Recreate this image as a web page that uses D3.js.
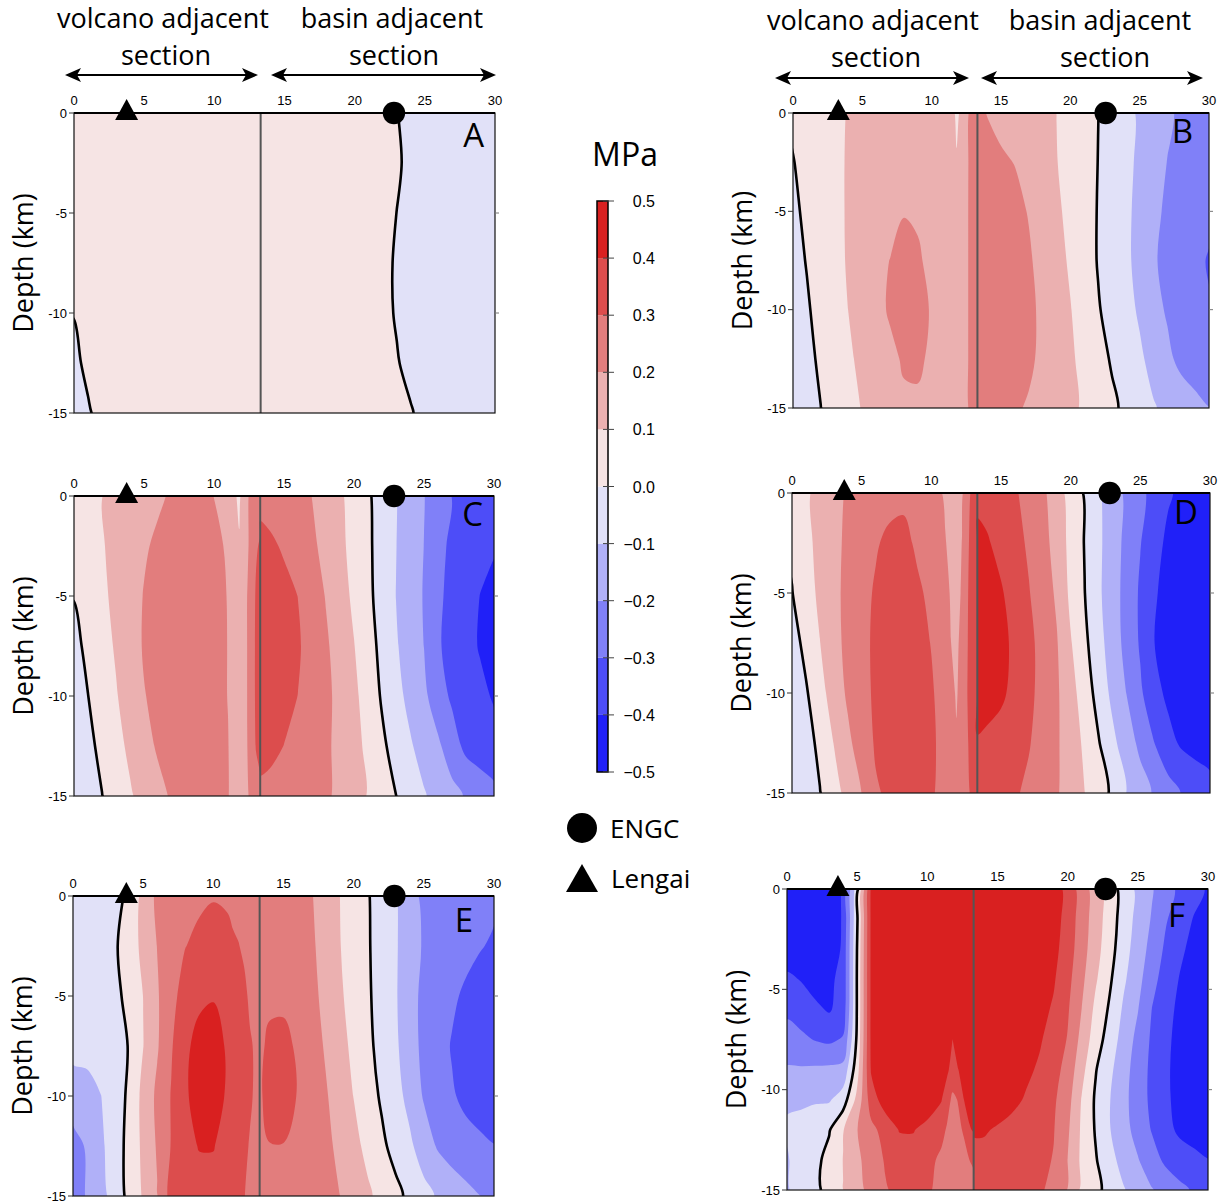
<!DOCTYPE html>
<html>
<head>
<meta charset="utf-8">
<script src="https://cdn.jsdelivr.net/npm/d3@7"></script>
<style>
  body { margin: 0; background: #fff; }
  svg { display: block; }
</style>
</head>
<body>
<svg id="fig" width="1223" height="1204"></svg>
<script>
// ---------------------------------------------------------------------------
// Stress change (MPa) along a 30 km section, 0-15 km depth, six model stages.
// Grid columns in km; 13.3 km appears twice: the boundary between the
// volcano-adjacent and the basin-adjacent sections (left / right limits).
// ---------------------------------------------------------------------------
const gridX = [0, 1, 2, 3, 4, 5, 6, 7, 8, 9, 10, 11, 11.4, 11.8, 12.2, 12.6, 13.0, 13.3,
               13.3, 14, 15, 16, 17, 18, 19, 20, 21, 22, 23, 24, 25, 26, 27, 28, 29, 30];
const depthsCoarse = [0, -2.5, -5, -7.5, -10, -12.5, -15];
const depthsFine = [0, -1.5, -3, -4.5, -6, -7.5, -9, -10.5, -12, -13.5, -15];

const sectionBoundaryKm = 13.3;
const contourLevels = [-0.4, -0.3, -0.2, -0.1, 0, 0.1, 0.2, 0.3, 0.4];
const bandColors = ['#2020f8', '#4d4df8', '#8080f8', '#b0b0f8', '#e1e1f8',
                    '#f6e4e4', '#ebb0b0', '#e27d7d', '#dc4d4d', '#d92020'];
const colorbarTicks = [0.5, 0.4, 0.3, 0.2, 0.1, 0.0, -0.1, -0.2, -0.3, -0.4, -0.5];
const xTicks = [0, 5, 10, 15, 20, 25, 30];
const yTicks = [0, -5, -10, -15];

// site positions along the section (km), one per panel A..F
const lengaiKm = [3.75, 3.27, 3.76, 3.75, 3.8, 3.63];
const engcKm = [22.8, 22.55, 22.86, 22.8, 22.9, 22.7];

// stress grids: one row per depth, one value per gridX column
const stressA = [
  [.05,.05,.05,.05,.05,.05,.05,.05,.05,.05,.05,.05, .05,.05,.05,.05,.05,.05, .05,.05,.05,.05,.05,.05,.05,.05,.05,.044,.004,-.036,-.05,-.05,-.05,-.05,-.05,-.05],
  [.05,.05,.05,.05,.05,.05,.05,.05,.05,.05,.05,.05, .05,.05,.05,.05,.05,.05, .05,.05,.05,.05,.05,.05,.05,.05,.05,.05,.014,-.026,-.05,-.05,-.05,-.05,-.05,-.05],
  [.05,.05,.05,.05,.05,.05,.05,.05,.05,.05,.05,.05, .05,.05,.05,.05,.05,.05, .05,.05,.05,.05,.05,.05,.05,.05,.05,.04,-.001,-.04,-.05,-.05,-.05,-.05,-.05,-.05],
  [.05,.05,.05,.05,.05,.05,.05,.05,.05,.05,.05,.05, .05,.05,.05,.05,.05,.05, .05,.05,.05,.05,.05,.05,.05,.05,.05,.028,-.012,-.05,-.05,-.05,-.05,-.05,-.05,-.05],
  [.003,.04,.05,.05,.05,.05,.05,.05,.05,.05,.05,.05, .05,.05,.05,.05,.05,.05, .05,.05,.05,.05,.05,.05,.05,.05,.05,.03,-.01,-.05,-.05,-.05,-.05,-.05,-.05,-.05],
  [-.02,.02,.05,.05,.05,.05,.05,.05,.05,.05,.05,.05, .05,.05,.05,.05,.05,.05, .05,.05,.05,.05,.05,.05,.05,.05,.05,.048,.008,-.032,-.05,-.05,-.05,-.05,-.05,-.05],
  [-.04,-.01,.03,.05,.05,.05,.05,.05,.05,.05,.05,.05, .05,.05,.05,.05,.05,.05, .05,.05,.05,.05,.05,.05,.05,.05,.05,.05,.048,.008,-.032,-.05,-.05,-.05,-.05,-.05]
];

const stressB = [
  [0.015,0.036,0.058,0.079,0.105,0.12,0.135,0.145,0.15,0.155,0.16,0.15, 0.13,0.085,0.12,0.198,0.21,0.215, 0.215,0.198,0.18,0.16,0.14,0.12,0.0995,0.067,0.034,0.001,-0.037,-0.075,-0.112,-0.148,-0.184,-0.217,-0.247,-0.27],
  [-0.003,0.025,0.053,0.08,0.108,0.12,0.135,0.15,0.16,0.165,0.165,0.15, 0.145,0.106,0.15,0.198,0.215,0.23, 0.23,0.225,0.21,0.198,0.166,0.134,0.103,0.069,0.034,-0.001,-0.039,-0.077,-0.117,-0.16,-0.202,-0.235,-0.26,-0.28],
  [-0.015,0.015,0.048,0.08,0.108,0.125,0.145,0.16,0.197,0.19,0.17,0.16, 0.16,0.16,0.17,0.198,0.22,0.24, 0.24,0.245,0.235,0.22,0.196,0.155,0.116,0.076,0.036,-0.004,-0.042,-0.081,-0.126,-0.179,-0.215,-0.24,-0.265,-0.285],
  [-0.027,0.004,0.039,0.075,0.108,0.14,0.17,0.202,0.22,0.21,0.18,0.165, 0.165,0.165,0.175,0.198,0.22,0.24, 0.24,0.25,0.245,0.235,0.21,0.173,0.131,0.088,0.042,-0.005,-0.042,-0.081,-0.129,-0.188,-0.23,-0.26,-0.285,-0.305],
  [-0.045,-0.009,0.027,0.064,0.101,0.135,0.175,0.21,0.225,0.22,0.195,0.165, 0.165,0.165,0.175,0.198,0.22,0.24, 0.24,0.25,0.248,0.24,0.22,0.182,0.143,0.104,0.056,0.007,-0.032,-0.07,-0.112,-0.171,-0.21,-0.245,-0.275,-0.295],
  [-0.058,-0.022,0.014,0.05,0.087,0.12,0.15,0.18,0.21,0.21,0.19,0.16, 0.16,0.16,0.17,0.198,0.22,0.235, 0.235,0.245,0.24,0.235,0.215,0.182,0.148,0.114,0.074,0.032,-0.009,-0.047,-0.085,-0.13,-0.18,-0.225,-0.245,-0.265],
  [-0.073,-0.037,-0.001,0.034,0.07,0.105,0.135,0.16,0.185,0.19,0.175,0.16, 0.16,0.16,0.17,0.198,0.215,0.23, 0.23,0.235,0.225,0.21,0.192,0.165,0.141,0.117,0.089,0.053,0.017,-0.019,-0.056,-0.093,-0.121,-0.148,-0.175,-0.198]
];

const stressC = [
  [0.05,0.075,0.099,0.121,0.143,0.165,0.187,0.21,0.225,0.22,0.199,0.16, 0.12,0.08,0.17,0.215,0.24,0.26, 0.27,0.265,0.245,0.225,0.199,0.156,0.114,0.065,0.013,-0.041,-0.096,-0.147,-0.197,-0.25,-0.302,-0.33,-0.36,-0.385],
  [0.025,0.059,0.093,0.126,0.158,0.19,0.215,0.235,0.245,0.24,0.22,0.19, 0.16,0.11,0.17,0.215,0.29,0.31, 0.33,0.315,0.29,0.26,0.215,0.176,0.121,0.071,0.017,-0.04,-0.098,-0.15,-0.201,-0.263,-0.325,-0.355,-0.375,-0.39],
  [0.003,0.043,0.082,0.122,0.163,0.204,0.225,0.24,0.25,0.245,0.225,0.197, 0.17,0.16,0.175,0.235,0.31,0.33, 0.345,0.34,0.325,0.299,0.247,0.195,0.139,0.082,0.022,-0.039,-0.101,-0.154,-0.206,-0.282,-0.328,-0.364,-0.401,-0.43],
  [-0.024,0.02,0.064,0.11,0.159,0.208,0.228,0.242,0.25,0.248,0.23,0.198, 0.17,0.16,0.175,0.235,0.315,0.34, 0.35,0.345,0.335,0.31,0.263,0.213,0.159,0.103,0.039,-0.026,-0.09,-0.146,-0.201,-0.289,-0.333,-0.37,-0.407,-0.44],
  [-0.048,-0.001,0.046,0.093,0.144,0.196,0.222,0.24,0.248,0.245,0.23,0.198, 0.17,0.16,0.175,0.235,0.315,0.34, 0.35,0.345,0.325,0.299,0.26,0.22,0.174,0.121,0.058,-0.01,-0.07,-0.126,-0.179,-0.256,-0.316,-0.347,-0.378,-0.409],
  [-0.07,-0.023,0.023,0.07,0.119,0.172,0.21,0.23,0.24,0.238,0.225,0.203, 0.17,0.16,0.175,0.23,0.305,0.325, 0.33,0.32,0.299,0.271,0.243,0.214,0.177,0.13,0.079,0.018,-0.037,-0.089,-0.137,-0.183,-0.254,-0.325,-0.35,-0.37],
  [-0.094,-0.048,-0.002,0.043,0.089,0.133,0.176,0.21,0.225,0.225,0.215,0.205, 0.17,0.16,0.17,0.215,0.26,0.28, 0.28,0.275,0.265,0.25,0.235,0.216,0.176,0.136,0.095,0.048,0.001,-0.045,-0.092,-0.132,-0.17,-0.208,-0.24,-0.27]
];

const stressD = [
  [0.03,0.085,0.131,0.173,0.21,0.235,0.255,0.27,0.28,0.275,0.25,0.185, 0.17,0.16,0.185,0.29,0.31,0.33, 0.38,0.365,0.34,0.31,0.27,0.22,0.145,0.063,-0.008,-0.085,-0.154,-0.218,-0.276,-0.333,-0.389,-0.42,-0.44,-0.455],
  [0.015,0.074,0.128,0.176,0.218,0.255,0.291,0.32,0.325,0.285,0.25,0.205, 0.175,0.16,0.202,0.29,0.33,0.35, 0.42,0.41,0.37,0.33,0.287,0.234,0.163,0.07,-0.004,-0.08,-0.154,-0.226,-0.296,-0.366,-0.42,-0.445,-0.46,-0.47],
  [-0.003,0.059,0.119,0.175,0.226,0.271,0.31,0.33,0.34,0.315,0.28,0.235, 0.19,0.17,0.21,0.295,0.34,0.36, 0.44,0.44,0.41,0.358,0.305,0.249,0.186,0.078,0.002,-0.083,-0.158,-0.233,-0.314,-0.39,-0.43,-0.455,-0.47,-0.48],
  [-0.042,0.028,0.098,0.167,0.226,0.277,0.315,0.335,0.345,0.33,0.297,0.25, 0.201,0.18,0.23,0.298,0.345,0.36, 0.45,0.45,0.43,0.377,0.324,0.267,0.207,0.107,0.022,-0.065,-0.149,-0.23,-0.311,-0.399,-0.44,-0.46,-0.475,-0.485],
  [-0.087,-0.011,0.066,0.143,0.215,0.27,0.315,0.335,0.345,0.335,0.31,0.26, 0.23,0.19,0.24,0.302,0.345,0.36, 0.45,0.445,0.42,0.368,0.321,0.27,0.214,0.136,0.052,-0.036,-0.124,-0.201,-0.285,-0.369,-0.42,-0.45,-0.465,-0.475],
  [-0.09,-0.04,0.024,0.102,0.179,0.247,0.31,0.33,0.34,0.335,0.315,0.27, 0.245,0.21,0.25,0.295,0.335,0.35, 0.39,0.375,0.355,0.335,0.306,0.261,0.212,0.151,0.083,0.007,-0.076,-0.151,-0.223,-0.299,-0.37,-0.415,-0.435,-0.45],
  [-0.102,-0.05,-0.004,0.062,0.131,0.201,0.29,0.315,0.325,0.325,0.31,0.27, 0.25,0.23,0.245,0.285,0.325,0.34, 0.36,0.355,0.335,0.31,0.282,0.245,0.209,0.157,0.101,0.045,-0.017,-0.101,-0.157,-0.211,-0.261,-0.305,-0.335,-0.36]
];

const stressE = [
  [-0.05,-0.045,-0.035,-0.03,0.02,0.133,0.22,0.24,0.255,0.285,0.295,0.29, 0.28,0.265,0.25,0.235,0.23,0.22, 0.24,0.25,0.245,0.23,0.205,0.157,0.101,0.054,0.007,-0.042,-0.091,-0.158,-0.225,-0.25,-0.265,-0.275,-0.28,-0.285],
  [-0.06,-0.055,-0.04,-0.012,0.053,0.123,0.202,0.225,0.298,0.32,0.335,0.32, 0.31,0.303,0.285,0.27,0.26,0.26, 0.26,0.27,0.265,0.25,0.215,0.162,0.104,0.056,0.009,-0.04,-0.091,-0.152,-0.211,-0.232,-0.253,-0.274,-0.295,-0.31],
  [-0.065,-0.06,-0.045,-0.027,0.032,0.101,0.19,0.27,0.34,0.385,0.395,0.37, 0.35,0.335,0.32,0.285,0.28,0.27, 0.27,0.285,0.285,0.265,0.225,0.175,0.115,0.063,0.013,-0.038,-0.091,-0.169,-0.221,-0.253,-0.285,-0.315,-0.335,-0.35],
  [-0.07,-0.065,-0.05,-0.025,0.003,0.098,0.19,0.29,0.385,0.425,0.435,0.39, 0.37,0.35,0.33,0.31,0.29,0.285, 0.285,0.315,0.32,0.29,0.245,0.19,0.134,0.078,0.022,-0.032,-0.084,-0.161,-0.223,-0.264,-0.306,-0.33,-0.345,-0.355],
  [-0.15,-0.14,-0.101,-0.04,0.015,0.13,0.22,0.305,0.39,0.43,0.435,0.39, 0.37,0.35,0.33,0.31,0.29,0.28, 0.29,0.325,0.33,0.297,0.26,0.21,0.154,0.098,0.042,-0.013,-0.066,-0.131,-0.209,-0.25,-0.291,-0.32,-0.335,-0.345],
  [-0.235,-0.19,-0.115,-0.055,0.035,0.12,0.21,0.305,0.37,0.405,0.405,0.36, 0.345,0.33,0.315,0.295,0.28,0.275, 0.28,0.298,0.298,0.28,0.255,0.225,0.177,0.128,0.075,0.019,-0.033,-0.082,-0.149,-0.21,-0.245,-0.27,-0.285,-0.298],
  [-0.23,-0.195,-0.13,-0.06,0.03,0.11,0.195,0.34,0.35,0.36,0.36,0.34, 0.33,0.32,0.302,0.285,0.275,0.27, 0.27,0.27,0.265,0.255,0.24,0.225,0.201,0.158,0.116,0.071,0.025,-0.022,-0.069,-0.11,-0.14,-0.17,-0.199,-0.22]
];

const stressF = [
  [-0.52,-0.52,-0.52,-0.52,-0.38,-0.03,0.42,0.48,0.5,0.5,0.5,0.5, 0.5,0.5,0.5,0.5,0.5,0.5, 0.5,0.5,0.5,0.5,0.5,0.48,0.45,0.37,0.253,0.153,0.054,-0.042,-0.121,-0.191,-0.261,-0.321,-0.367,-0.41],
  [-0.52,-0.52,-0.52,-0.52,-0.38,-0.01,0.42,0.48,0.5,0.5,0.5,0.5, 0.5,0.5,0.5,0.5,0.5,0.5, 0.5,0.5,0.5,0.5,0.5,0.48,0.445,0.361,0.253,0.15,0.05,-0.045,-0.131,-0.208,-0.292,-0.35,-0.406,-0.44],
  [-0.46,-0.47,-0.49,-0.52,-0.37,0.005,0.42,0.48,0.5,0.5,0.5,0.5, 0.5,0.5,0.5,0.5,0.5,0.5, 0.5,0.5,0.5,0.5,0.5,0.47,0.43,0.35,0.244,0.137,0.038,-0.06,-0.148,-0.233,-0.319,-0.381,-0.43,-0.46],
  [-0.38,-0.405,-0.44,-0.42,-0.37,0.01,0.42,0.48,0.5,0.5,0.5,0.5, 0.5,0.5,0.5,0.5,0.5,0.5, 0.5,0.5,0.5,0.5,0.48,0.45,0.41,0.33,0.223,0.111,0.014,-0.085,-0.168,-0.267,-0.344,-0.406,-0.44,-0.47],
  [-0.32,-0.345,-0.38,-0.41,-0.36,0.01,0.42,0.48,0.5,0.5,0.5,0.5, 0.5,0.5,0.5,0.5,0.5,0.5, 0.5,0.5,0.5,0.5,0.47,0.43,0.388,0.311,0.199,0.075,-0.014,-0.116,-0.196,-0.301,-0.363,-0.425,-0.46,-0.48],
  [-0.26,-0.28,-0.305,-0.32,-0.29,0.02,0.42,0.48,0.5,0.5,0.5,0.5, 0.5,0.399,0.5,0.5,0.5,0.5, 0.5,0.5,0.5,0.48,0.44,0.41,0.361,0.294,0.169,0.047,-0.045,-0.141,-0.228,-0.315,-0.38,-0.43,-0.46,-0.48],
  [-0.19,-0.19,-0.185,-0.18,-0.17,0.06,0.41,0.47,0.5,0.5,0.5,0.48, 0.42,0.36,0.398,0.45,0.48,0.48, 0.5,0.5,0.49,0.46,0.42,0.387,0.336,0.265,0.131,0.005,-0.079,-0.163,-0.246,-0.323,-0.387,-0.43,-0.46,-0.48],
  [-0.11,-0.115,-0.11,-0.11,-0.05,0.13,0.35,0.45,0.48,0.48,0.46,0.405, 0.34,0.28,0.305,0.399,0.44,0.45, 0.48,0.47,0.45,0.425,0.392,0.354,0.315,0.237,0.094,-0.014,-0.097,-0.173,-0.25,-0.322,-0.384,-0.43,-0.455,-0.47],
  [-0.09,-0.07,-0.045,-0.008,0.095,0.198,0.275,0.335,0.405,0.405,0.37,0.33, 0.29,0.25,0.28,0.31,0.39,0.41, 0.41,0.41,0.39,0.37,0.35,0.33,0.305,0.215,0.084,-0.009,-0.096,-0.166,-0.236,-0.306,-0.369,-0.42,-0.44,-0.45],
  [-0.108,-0.06,-0.025,0.03,0.102,0.185,0.235,0.31,0.35,0.36,0.33,0.28, 0.26,0.24,0.25,0.27,0.3,0.31, 0.37,0.37,0.365,0.355,0.34,0.325,0.295,0.199,0.08,0.007,-0.069,-0.135,-0.194,-0.26,-0.32,-0.35,-0.375,-0.398],
  [-0.11,-0.06,-0.025,0.035,0.099,0.165,0.235,0.29,0.33,0.33,0.31,0.28, 0.26,0.245,0.25,0.26,0.27,0.28, 0.33,0.335,0.335,0.33,0.32,0.31,0.28,0.196,0.081,0.025,-0.033,-0.094,-0.144,-0.194,-0.237,-0.279,-0.31,-0.335]
];

// ---------------------------------------------------------------------------
// layout
// ---------------------------------------------------------------------------
const sansFont = "'Open Sans', 'Noto Sans', sans-serif";
const numFont = "'Liberation Sans', Arial, sans-serif";

const panels = [
  { key: 'A', grid: stressA, depths: depthsCoarse, x0: 74,  x1: 495,  y0: 113, y1: 413,  lx: -11, ly: 34 },
  { key: 'B', grid: stressB, depths: depthsCoarse, x0: 793, x1: 1209, y0: 113, y1: 408,  lx: -16, ly: 30 },
  { key: 'C', grid: stressC, depths: depthsCoarse, x0: 74,  x1: 494,  y0: 496, y1: 796,  lx: -11, ly: 30 },
  { key: 'D', grid: stressD, depths: depthsCoarse, x0: 792, x1: 1210, y0: 493, y1: 793,  lx: -12, ly: 31 },
  { key: 'E', grid: stressE, depths: depthsCoarse, x0: 73,  x1: 494,  y0: 896, y1: 1196, lx: -21, ly: 36 },
  { key: 'F', grid: stressF, depths: depthsFine,   x0: 787, x1: 1208, y0: 889, y1: 1190, lx: -23, ly: 38 }
];

const svg = d3.select('#fig');
const defs = svg.append('defs');

// smooth closed rings for the filled contour bands
const ringLine = d3.line().curve(d3.curveCatmullRomClosed.alpha(0.5));

function drawPanel(p, i) {
  const x = d3.scaleLinear().domain([0, 30]).range([p.x0, p.x1]);
  const y = d3.scaleLinear().domain([0, -15]).range([p.y0, p.y1]);
  const nx = gridX.length, ny = p.depths.length;

  // grid index -> km (piecewise, allows uneven spacing and the section break)
  const colKm = d3.scaleLinear().domain(d3.range(nx)).range(gridX);
  const rowKm = d3.scaleLinear().domain(d3.range(ny)).range(p.depths);
  const values = p.grid.flat();
  const contours = d3.contours().size([nx, ny]);

  const toScreen = ([gx, gy]) => [x(colKm(gx - 0.5)), y(rowKm(gy - 0.5))];
  function bandPath(level) {
    const geom = contours.contour(values, level);
    let d = '';
    geom.coordinates.forEach(poly => poly.forEach(ring => {
      const pts = ring.slice(0, -1).map(toScreen);
      const clean = pts.filter((pt, k) => k === 0 ||
        Math.abs(pt[0] - pts[k - 1][0]) + Math.abs(pt[1] - pts[k - 1][1]) > 0.05);
      if (clean.length > 2) d += ringLine(clean);
    }));
    return d;
  }

  const clipId = 'clip-' + p.key;
  defs.append('clipPath').attr('id', clipId)
    .append('rect')
    .attr('x', p.x0).attr('y', p.y0)
    .attr('width', p.x1 - p.x0).attr('height', p.y1 - p.y0);

  const g = svg.append('g').attr('clip-path', `url(#${clipId})`);
  g.append('rect')
    .attr('x', p.x0).attr('y', p.y0)
    .attr('width', p.x1 - p.x0).attr('height', p.y1 - p.y0)
    .attr('fill', bandColors[0]);

  contourLevels.forEach((lv, k) => {
    g.append('path')
      .attr('d', bandPath(lv))
      .attr('fill', bandColors[k + 1])
      .attr('fill-rule', 'evenodd');
  });

  // zero-stress contour
  g.append('path')
    .attr('d', bandPath(0))
    .attr('fill', 'none')
    .attr('stroke', '#000')
    .attr('stroke-width', 2.6)
    .attr('stroke-linejoin', 'round');

  // section boundary
  svg.append('line')
    .attr('x1', x(sectionBoundaryKm)).attr('x2', x(sectionBoundaryKm))
    .attr('y1', p.y0).attr('y2', p.y1)
    .attr('stroke', '#555').attr('stroke-width', 2);

  // frame
  svg.append('rect')
    .attr('x', p.x0).attr('y', p.y0)
    .attr('width', p.x1 - p.x0).attr('height', p.y1 - p.y0)
    .attr('fill', 'none').attr('stroke', '#111').attr('stroke-width', 1.2);
  svg.append('line')
    .attr('x1', p.x0).attr('x2', p.x1).attr('y1', p.y0).attr('y2', p.y0)
    .attr('stroke', '#000').attr('stroke-width', 2);

  // distance ticks (top)
  svg.append('g').selectAll('text').data(xTicks).join('text')
    .attr('x', d => x(d)).attr('y', p.y0 - 8)
    .attr('text-anchor', 'middle')
    .attr('font-family', numFont).attr('font-size', 13)
    .text(d => d);

  // depth ticks (left)
  const yt = svg.append('g');
  yt.selectAll('line.l').data(yTicks).join('line')
    .attr('x1', p.x0 - 5).attr('x2', p.x0)
    .attr('y1', d => y(d)).attr('y2', d => y(d))
    .attr('stroke', '#333').attr('stroke-width', 1);
  yt.selectAll('line.r').data(yTicks.slice(1, 3)).join('line')
    .attr('x1', p.x1).attr('x2', p.x1 + 4)
    .attr('y1', d => y(d)).attr('y2', d => y(d))
    .attr('stroke', '#777').attr('stroke-width', 1);
  yt.selectAll('text').data(yTicks).join('text')
    .attr('x', p.x0 - 7).attr('y', d => y(d) + 4.5)
    .attr('text-anchor', 'end')
    .attr('font-family', numFont).attr('font-size', 13)
    .text(d => d);

  svg.append('text')
    .attr('transform', `translate(${p.x0 - 41},${(p.y0 + p.y1) / 2}) rotate(-90)`)
    .attr('text-anchor', 'middle')
    .attr('font-family', sansFont).attr('font-size', 27)
    .text('Depth (km)');

  // sites on the surface
  const tx = x(lengaiKm[i]);
  svg.append('path')
    .attr('d', `M${tx},${p.y0 - 14}L${tx + 11.5},${p.y0 + 7}L${tx - 11.5},${p.y0 + 7}Z`)
    .attr('fill', '#000');
  svg.append('circle')
    .attr('cx', x(engcKm[i])).attr('cy', p.y0).attr('r', 11.2)
    .attr('fill', '#000');

  // panel letter
  svg.append('text')
    .attr('x', p.x1 + p.lx).attr('y', p.y0 + p.ly)
    .attr('text-anchor', 'end')
    .attr('font-family', sansFont).attr('font-size', 33)
    .text(p.key);
}

panels.forEach(drawPanel);

// ---------------------------------------------------------------------------
// section headers
// ---------------------------------------------------------------------------
const headerLabels = ['volcano adjacent', 'basin adjacent'];
const headers = [
  { c1: [163, 392], c2: [166, 394], y1: 28, y2: 65, ya: 75, arrows: [[65, 258], [271, 496]] },
  { c1: [873, 1100], c2: [876, 1105], y1: 30, y2: 67, ya: 78, arrows: [[775, 969], [981, 1203]] }
];

function doubleArrow(xa, xb, y) {
  const g = svg.append('g');
  g.append('line').attr('x1', xa + 8).attr('x2', xb - 8).attr('y1', y).attr('y2', y)
    .attr('stroke', '#000').attr('stroke-width', 2.2);
  g.append('path').attr('d', `M${xa},${y}L${xa + 16},${y - 7}L${xa + 12},${y}L${xa + 16},${y + 7}Z`).attr('fill', '#000');
  g.append('path').attr('d', `M${xb},${y}L${xb - 16},${y - 7}L${xb - 12},${y}L${xb - 16},${y + 7}Z`).attr('fill', '#000');
}

headers.forEach(h => {
  headerLabels.forEach((lab, k) => {
    svg.append('text').attr('x', h.c1[k]).attr('y', h.y1)
      .attr('text-anchor', 'middle').attr('font-family', sansFont).attr('font-size', 27)
      .text(lab);
    svg.append('text').attr('x', h.c2[k]).attr('y', h.y2)
      .attr('text-anchor', 'middle').attr('font-family', sansFont).attr('font-size', 27)
      .text('section');
    doubleArrow(h.arrows[k][0], h.arrows[k][1], h.ya);
  });
});

// ---------------------------------------------------------------------------
// colour bar
// ---------------------------------------------------------------------------
const cbX = 597, cbW = 11;
const cbY = d3.scaleLinear().domain([-0.5, 0.5]).range([772, 201]);
const cb = svg.append('g');
bandColors.forEach((c, k) => {
  const lo = -0.5 + 0.1 * k, hi = lo + 0.1;
  cb.append('rect').attr('x', cbX).attr('y', cbY(hi))
    .attr('width', cbW).attr('height', cbY(lo) - cbY(hi))
    .attr('fill', c);
});
cb.append('rect').attr('x', cbX).attr('y', cbY(0.5)).attr('width', cbW)
  .attr('height', cbY(-0.5) - cbY(0.5))
  .attr('fill', 'none').attr('stroke', '#000').attr('stroke-width', 1.5);
cb.selectAll('line').data(colorbarTicks).join('line')
  .attr('x1', cbX + 6).attr('x2', cbX + cbW + 6)
  .attr('y1', d => cbY(d)).attr('y2', d => cbY(d))
  .attr('stroke', '#444').attr('stroke-width', 1);
cb.selectAll('text').data(colorbarTicks).join('text')
  .attr('x', 655).attr('y', d => cbY(d) + 6)
  .attr('text-anchor', 'end')
  .attr('font-family', numFont).attr('font-size', 16)
  .text(d => (d < 0 ? '\u2212' : '') + Math.abs(d).toFixed(1));
svg.append('text').attr('x', 625).attr('y', 166)
  .attr('text-anchor', 'middle').attr('font-family', sansFont).attr('font-size', 32)
  .text('MPa');

// ---------------------------------------------------------------------------
// legend
// ---------------------------------------------------------------------------
svg.append('circle').attr('cx', 582).attr('cy', 828).attr('r', 15).attr('fill', '#000');
svg.append('text').attr('x', 610).attr('y', 838)
  .attr('font-family', sansFont).attr('font-size', 26).text('ENGC');
svg.append('path').attr('d', 'M582,864L598,892L566,892Z').attr('fill', '#000');
svg.append('text').attr('x', 611).attr('y', 888)
  .attr('font-family', sansFont).attr('font-size', 26).text('Lengai');
</script>
</body>
</html>
